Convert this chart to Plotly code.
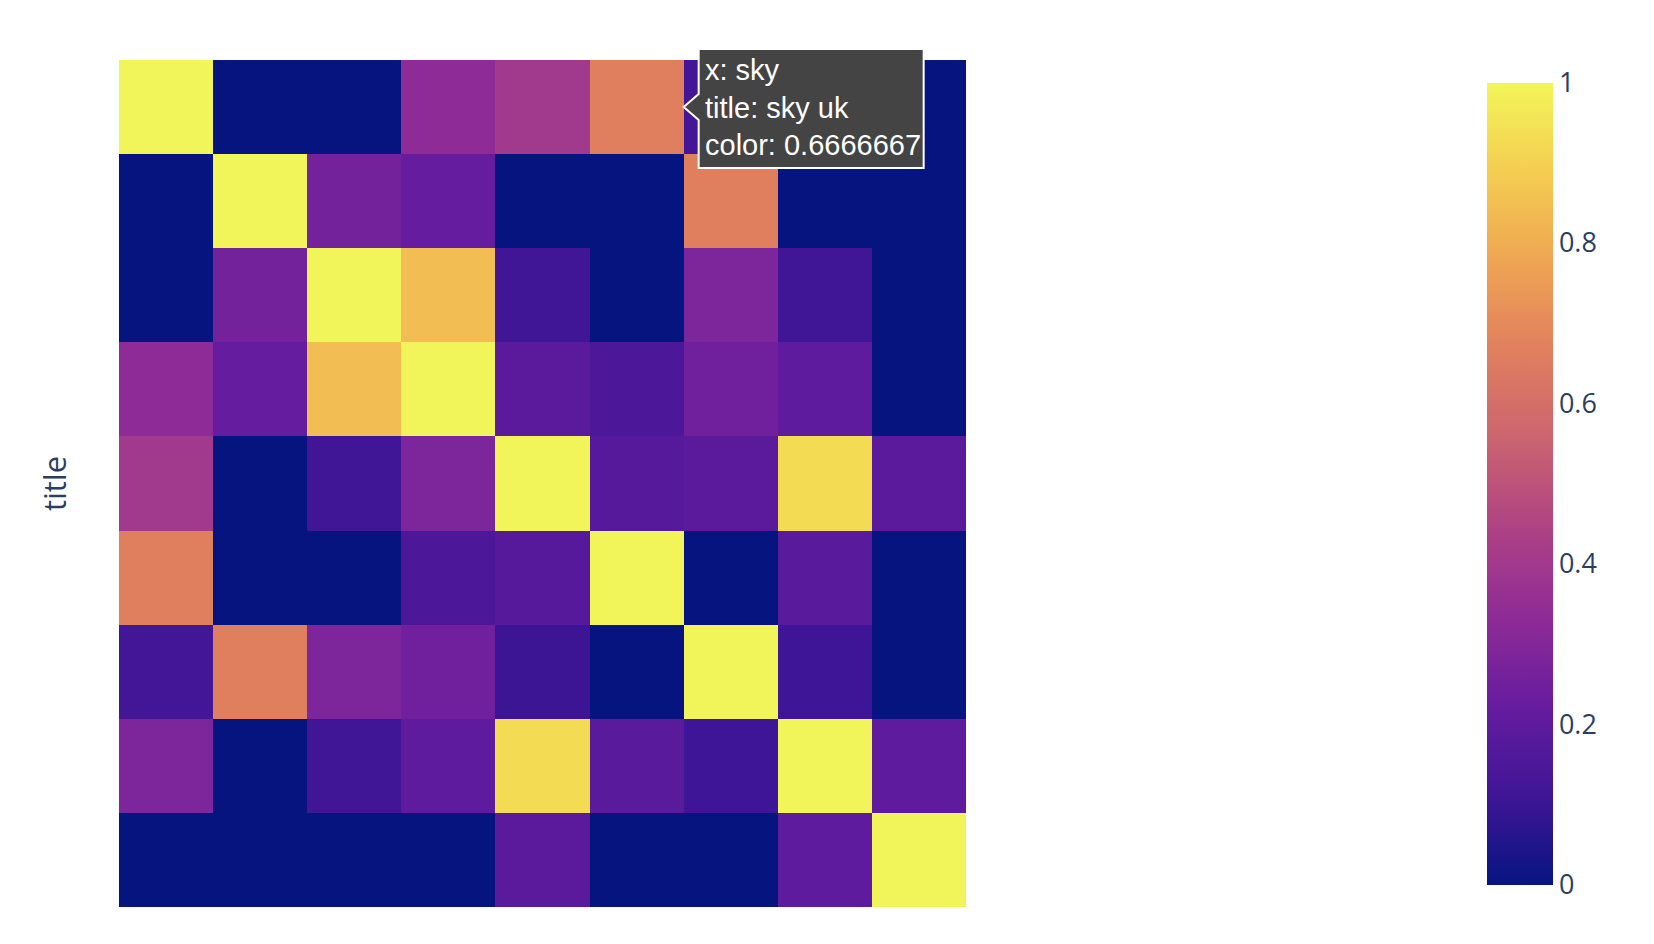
import plotly.graph_objects as go

labels = ["sky uk", "bbc one", "bbc two", "bbc news", "itv", "sky", "channel 4", "itv news", "dave"]

row_sky_uk    = [1.0,   0.0,   0.0,   0.333, 0.4,   0.667, 0.12,  0.286, 0.0]
row_bbc_one   = [0.0,   1.0,   0.26,  0.222, 0.0,   0.0,   0.667, 0.0,   0.0]
row_bbc_two   = [0.0,   0.26,  1.0,   0.845, 0.115, 0.0,   0.286, 0.115, 0.0]
row_bbc_news  = [0.333, 0.222, 0.845, 1.0,   0.19,  0.15,  0.25,  0.2,   0.0]
row_itv       = [0.4,   0.0,   0.115, 0.286, 1.0,   0.18,  0.19,  0.93,  0.19]
row_sky       = [0.667, 0.0,   0.0,   0.15,  0.18,  1.0,   0.0,   0.185, 0.0]
row_channel_4 = [0.12,  0.667, 0.286, 0.25,  0.105, 0.0,   1.0,   0.11,  0.0]
row_itv_news  = [0.286, 0.0,   0.115, 0.2,   0.93,  0.185, 0.11,  1.0,   0.2]
row_dave      = [0.0,   0.0,   0.0,   0.0,   0.19,  0.0,   0.0,   0.2,   1.0]

z = [row_sky_uk, row_bbc_one, row_bbc_two, row_bbc_news, row_itv,
     row_sky, row_channel_4, row_itv_news, row_dave]

# Plasma as it appears in the reference rendering
plasma_stops = [0.0, 0.111, 0.222, 0.333, 0.444, 0.556, 0.667, 0.778, 0.889, 1.0]
plasma_colors = ["#061480", "#3F1596", "#661C9F", "#8E2B96", "#AE4285",
                 "#CB6470", "#E07F5E", "#EFA553", "#F4CD51", "#F2F55A"]

cb_ticks = [0, 0.2, 0.4, 0.6, 0.8, 1]
cb_ticktext = ["0", "0.2", "0.4", "0.6", "0.8", "1"]

hover_x = "sky"
hover_y = "sky uk"
hover_val = 0.6666667

W, H = 1654, 944
left, top, side = 111, 52, 847

fig = go.Figure(go.Heatmap(
    z=z, x=labels, y=labels,
    colorscale=[[s, c] for s, c in zip(plasma_stops, plasma_colors)],
    zmin=0, zmax=1,
    hovertemplate="x: %{x}<br>title: %{y}<br>color: %{z}<extra></extra>",
    colorbar=dict(
        thickness=66, outlinewidth=0, ticks="",
        tickvals=cb_ticks, ticktext=cb_ticktext,
        tickfont=dict(size=27, color="#2a3f5f"),
        x=1.6151, xanchor="left", xpad=0,
        y=0.5, yanchor="middle", ypad=0,
        len=0.947, lenmode="fraction",
    ),
))

fig.update_layout(
    width=W, height=H,
    margin=dict(l=left, r=W - left - side, t=top, b=H - top - side),
    paper_bgcolor="white", plot_bgcolor="white",
    font=dict(family="Open Sans, verdana, arial, sans-serif", color="#2a3f5f"),
    xaxis=dict(showticklabels=False, ticks="", showgrid=False, zeroline=False,
               range=[-0.5, 8.5]),
    yaxis=dict(showticklabels=False, ticks="", showgrid=False, zeroline=False,
               range=[8.5, -0.5],
               title=dict(text="title", font=dict(size=31), standoff=42)),
)

# Hover-label look-alike pointing at the hovered cell's right edge
n = len(labels)
cell_col = labels.index(hover_x)
cell_row = labels.index(hover_y)
anchor_x = (cell_col + 1) / n          # right edge of hovered cell (paper)
anchor_y = 1 - (cell_row + 0.5) / n    # centre of hovered row (paper)
fig.add_shape(
    type="path", xref="paper", yref="paper",
    xsizemode="pixel", ysizemode="pixel",
    xanchor=anchor_x, yanchor=anchor_y,
    path="M0,0 L15,13 L15,58 L240,58 L240,-61 L15,-61 L15,-13 Z",
    fillcolor="#444444", line=dict(color="white", width=2), layer="above",
)
fig.add_annotation(
    x=anchor_x, y=anchor_y, xref="paper", yref="paper",
    xanchor="left", yanchor="middle", xshift=19, yshift=0,
    showarrow=False, align="left",
    text=f"x: {hover_x}<br>title: {hover_y}<br>color: {hover_val}",
    font=dict(family="Arial, Liberation Sans, sans-serif", size=29, color="white"),
)

fig.write_html("out.html")
